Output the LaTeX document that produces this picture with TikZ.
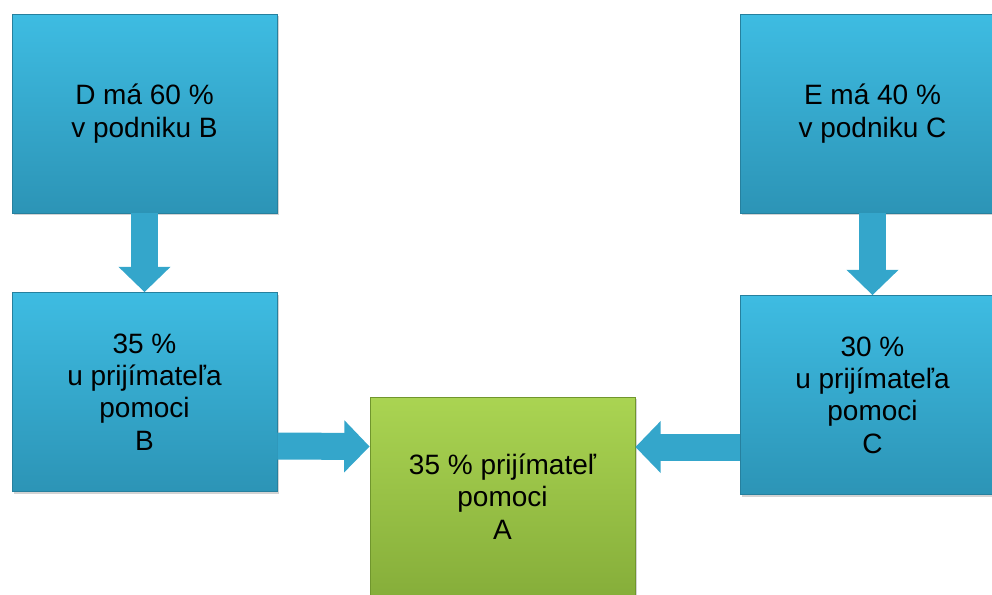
\documentclass[tikz,border=0pt]{standalone}
\usepackage{fontspec}
\setmainfont{Liberation Sans}
\usepackage{xcolor}
\usepackage{tikz}
\usetikzlibrary{arrows.meta,positioning,calc,shadows}

\definecolor{boxtop}{RGB}{62,188,226}
\definecolor{boxbottom}{RGB}{44,148,182}
\definecolor{boxline}{RGB}{38,128,158}
\definecolor{greentop}{RGB}{170,212,82}
\definecolor{greenbottom}{RGB}{134,174,58}
\definecolor{greenline}{RGB}{112,150,45}
\definecolor{arrowblue}{RGB}{52,166,203}

\begin{document}
\begin{tikzpicture}[
    x=0.75pt, y=-0.75pt,
    share/.style={draw=boxline, line width=0.6pt, top color=boxtop, bottom color=boxbottom,
        minimum width=198.75pt, minimum height=149.25pt, align=center,
        font=\fontsize{21}{24.3}\selectfont,
        drop shadow={opacity=0.35, shadow xshift=1.5pt, shadow yshift=-1.5pt}},
    receiver/.style={share, draw=greenline, top color=greentop, bottom color=greenbottom},
    flow/.style={arrowblue, line width=20.25pt,
        -{Triangle[width=38pt, length=19pt]}}
]
    \useasboundingbox (0,0) rectangle (992,594);
    \clip (0,0) rectangle (992,594);

    % Owners D and E
    \node[share] (d) at (144.5,113.5) {D má 60 \%\\v podniku B};
    \node[share] (e) at (872.5,113.5) {E má 40 \%\\v podniku C};

    % Partner undertakings B and C
    \node[share] (b) at (144.5,392) {35 \%\\u prijímateľa\\pomoci\\B};
    \node[share] (c) at (872.5,395) {30 \%\\u prijímateľa\\pomoci\\C};

    % Aid recipient A
    \node[receiver] (a) at (502.5,496.5) {35 \% prijímateľ\\pomoci\\A};

    % Ownership links
    \draw[flow] (d.south) -- (b.north);
    \draw[flow] (e.south) -- (c.north);
    \draw[flow] ($(b.east)+(0,54)$) -- ($(a.west)+(0,-50)$);
    \draw[flow] ($(c.west)+(0,52)$) -- ($(a.east)+(0,-49.5)$);

\end{tikzpicture}
\end{document}
